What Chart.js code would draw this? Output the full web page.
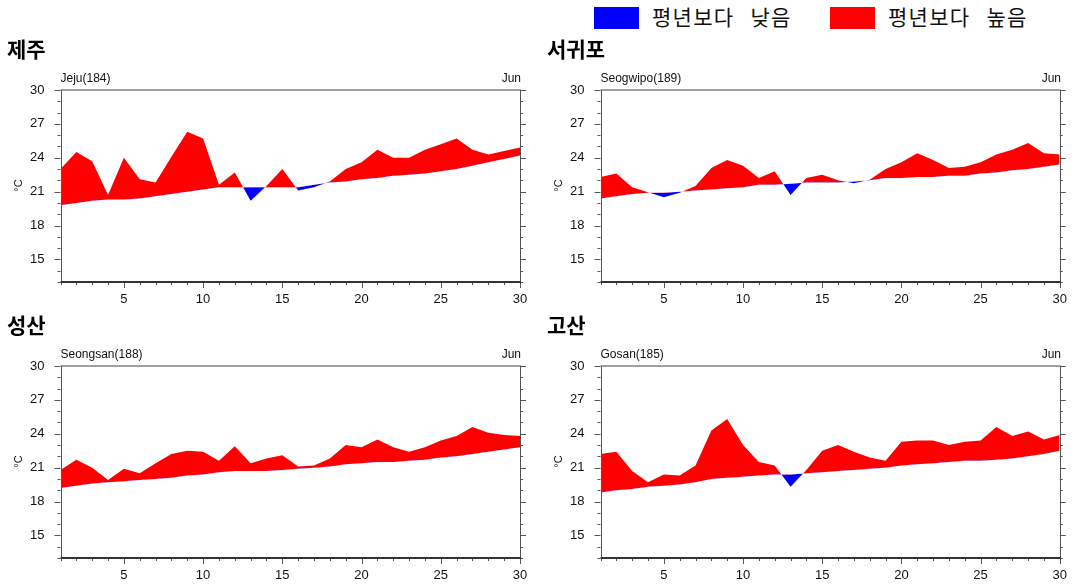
<!DOCTYPE html>
<html><head><meta charset="utf-8">
<script src="https://cdn.jsdelivr.net/npm/chart.js@4.4.0/dist/chart.umd.min.js"></script>
<style>
body{margin:0;width:1077px;height:587px;background:#fff;position:relative;overflow:hidden;font-family:"Liberation Sans",Arial,sans-serif;}
.abs{position:absolute;white-space:nowrap;}
.ttl{font-family:"Noto Sans CJK KR";font-weight:bold;font-size:21px;line-height:21px;color:#000;}
.stn{font-size:12px;line-height:12px;color:#111;}
.leg{font-family:"Noto Sans CJK KR";font-size:21px;line-height:21px;color:#111;letter-spacing:1.3px;word-spacing:10px;}
.unit{font-size:11px;line-height:11px;color:#111;width:20px;text-align:center;transform:rotate(-90deg);}
canvas{position:absolute;}
</style>
</head><body>
<div class="abs" style="left:594px;top:7px;width:45px;height:22px;background:#0000ff;"></div>
<div class="abs leg" style="left:652px;top:6px;">평년보다 낮음</div>
<div class="abs" style="left:830px;top:7px;width:45px;height:22px;background:#ff0000;"></div>
<div class="abs leg" style="left:888px;top:6px;">평년보다 높음</div>
<div id="root"></div>
<script>
// ---- data ----
const days = [1,2,3,4,5,6,7,8,9,10,11,12,13,14,15,16,17,18,19,20,21,22,23,24,25,26,27,28,29,30];
const xTickLabels = [5,10,15,20,25,30];
const yTickLabels = [15,18,21,24,27,30];
const stationTitles = ['제주','서귀포','성산','고산'];
const stationNames = ['Jeju(184)','Seogwipo(189)','Seongsan(188)','Gosan(185)'];
const monthLabel = 'Jun';

const jejuObs  = [23.0,24.5,23.7,20.7,24.0,22.1,21.8,24.1,26.3,25.7,21.6,22.7,20.2,21.5,23.0,21.1,21.4,21.9,23.0,23.6,24.7,24.0,24.0,24.7,25.2,25.7,24.7,24.3,24.6,24.9];
const jejuNorm = [19.8,20.0,20.2,20.3,20.3,20.4,20.6,20.8,21.0,21.2,21.4,21.4,21.4,21.4,21.4,21.4,21.6,21.8,21.9,22.1,22.2,22.4,22.5,22.6,22.8,23.0,23.3,23.6,23.9,24.2];

const seogwipoObs  = [22.3,22.6,21.4,20.95,20.5,20.9,21.5,23.1,23.8,23.3,22.2,22.8,20.7,22.2,22.5,22.0,21.75,22.05,23.0,23.6,24.4,23.8,23.1,23.2,23.6,24.3,24.7,25.3,24.4,24.3];
const seogwipoNorm = [20.4,20.6,20.8,20.9,20.9,21.0,21.1,21.2,21.3,21.4,21.6,21.6,21.7,21.8,21.8,21.8,21.9,22.0,22.2,22.2,22.3,22.3,22.4,22.4,22.6,22.7,22.9,23.0,23.2,23.4];

const seongsanObs  = [20.8,21.7,21.0,19.9,20.9,20.5,21.4,22.2,22.5,22.4,21.6,22.9,21.4,21.8,22.1,21.1,21.2,21.8,23.0,22.8,23.5,22.8,22.4,22.8,23.4,23.8,24.6,24.1,23.9,23.8];
const seongsanNorm = [19.2,19.4,19.6,19.7,19.8,19.9,20.0,20.1,20.3,20.4,20.6,20.7,20.7,20.7,20.8,20.9,21.0,21.1,21.3,21.4,21.5,21.5,21.6,21.7,21.9,22.0,22.2,22.4,22.6,22.8];

const gosanObs  = [22.2,22.4,20.7,19.7,20.4,20.3,21.2,24.3,25.3,23.0,21.5,21.2,19.3,20.8,22.5,23.0,22.4,21.9,21.6,23.3,23.4,23.4,23.0,23.3,23.4,24.6,23.8,24.2,23.5,23.9];
const gosanNorm = [18.8,19.0,19.1,19.3,19.4,19.5,19.7,20.0,20.1,20.2,20.3,20.4,20.4,20.5,20.6,20.7,20.8,20.9,21.0,21.2,21.3,21.4,21.5,21.6,21.6,21.7,21.8,22.0,22.2,22.5];

const obsSeries  = [jejuObs, seogwipoObs, seongsanObs, gosanObs];
const normSeries = [jejuNorm, seogwipoNorm, seongsanNorm, gosanNorm];

// ---- layout ----
const layouts = [
  {x:0,   y:60,  w:540, h:260, l:60.5,  t:90,  r:520,  b:282},
  {x:540, y:60,  w:537, h:260, l:600.5, t:90,  r:1060, b:282},
  {x:0,   y:336, w:540, h:251, l:60.5,  t:366, r:520,  b:558},
  {x:540, y:336, w:537, h:251, l:600.5, t:366, r:1060, b:558}
];

const framePlugin = {
  id:'frame',
  afterDraw(chart){
    const {ctx, chartArea:a, scales:{x, y}} = chart;
    ctx.save();
    ctx.strokeStyle = '#555'; ctx.lineWidth = 1;
    ctx.beginPath();
    for (let v = 13; v <= 30; v++) {
      const py = Math.round(y.getPixelForValue(v)) + 0.5;
      const L = yTickLabels.includes(v) ? 6 : 3;
      ctx.moveTo(a.left - L, py); ctx.lineTo(a.left, py);
      ctx.moveTo(a.right, py); ctx.lineTo(a.right + L, py);
    }
    for (const d of days) {
      const px = Math.round(x.getPixelForValue(d)) + 0.5;
      const L = (d % 5 === 0) ? 6 : 3;
      ctx.moveTo(px, a.bottom); ctx.lineTo(px, a.bottom + L);
    }
    ctx.stroke();
    // frame
    ctx.strokeStyle = '#a0a0a0'; ctx.lineWidth = 2;
    ctx.beginPath(); ctx.moveTo(a.left, a.top); ctx.lineTo(a.right + 1, a.top); ctx.stroke();
    ctx.strokeStyle = '#555'; ctx.lineWidth = 1;
    ctx.beginPath();
    ctx.moveTo(Math.round(a.left) + 0.5, a.top); ctx.lineTo(Math.round(a.left) + 0.5, a.bottom);
    ctx.moveTo(Math.round(a.right) + 0.5, a.top); ctx.lineTo(Math.round(a.right) + 0.5, a.bottom);
    ctx.stroke();
    ctx.strokeStyle = '#333'; ctx.lineWidth = 2;
    ctx.beginPath(); ctx.moveTo(a.left, a.bottom); ctx.lineTo(a.right + 1, a.bottom); ctx.stroke();
    ctx.restore();
  }
};

const root = document.getElementById('root');
const fontFam = '"Liberation Sans", Arial, sans-serif';

layouts.forEach((L, i) => {
  const cv = document.createElement('canvas');
  cv.width = L.w; cv.height = L.h;
  cv.style.left = L.x + 'px'; cv.style.top = L.y + 'px';
  cv.style.width = L.w + 'px'; cv.style.height = L.h + 'px';
  root.appendChild(cv);

  const ttl = document.createElement('div');
  ttl.className = 'abs ttl'; ttl.textContent = stationTitles[i];
  ttl.style.left = (L.x + 7) + 'px'; ttl.style.top = (L.t - 52) + 'px';
  root.appendChild(ttl);

  const stn = document.createElement('div');
  stn.className = 'abs stn'; stn.textContent = stationNames[i];
  stn.style.left = L.l + 'px'; stn.style.top = (L.t - 18) + 'px';
  root.appendChild(stn);

  const mon = document.createElement('div');
  mon.className = 'abs stn'; mon.textContent = monthLabel;
  mon.style.right = (1077 - L.r - 1) + 'px'; mon.style.top = (L.t - 18) + 'px';
  root.appendChild(mon);

  const unit = document.createElement('div');
  unit.className = 'abs unit'; unit.textContent = '°C';
  unit.style.left = (L.x + 8) + 'px'; unit.style.top = ((L.t + L.b) / 2 - 6) + 'px';
  root.appendChild(unit);

  const obs = obsSeries[i], norm = normSeries[i];
  new Chart(cv, {
    type: 'line',
    data: {
      datasets: [
        {data: days.map((d, k) => ({x: d, y: norm[k]})), borderColor: 'transparent', borderWidth: 1, pointRadius: 0, fill: false, tension: 0},
        {data: days.map((d, k) => ({x: d, y: obs[k]})), borderColor: 'transparent', borderWidth: 1, pointRadius: 0, tension: 0,
         fill: {target: 0, above: '#ff0000', below: '#0000ff'}}
      ]
    },
    options: {
      responsive: false, animation: false,
      layout: {padding: {left: 0, top: L.t - L.y, right: (L.x + L.w) - L.r, bottom: 0}},
      plugins: {legend: {display: false}, tooltip: {enabled: false}},
      scales: {
        x: {
          type: 'linear', min: 1, max: 30,
          afterFit: s => { s.height = (L.y + L.h) - L.b; },
          afterBuildTicks: s => { s.ticks = xTickLabels.map(v => ({value: v})); },
          ticks: {autoSkip: false, maxRotation: 0, padding: 10, color: '#111', font: {size: 13, family: fontFam}},
          grid: {display: false, drawTicks: false}, border: {display: false}
        },
        y: {
          type: 'linear', min: 13, max: 30,
          afterFit: s => { s.width = L.l - L.x; },
          afterBuildTicks: s => { s.ticks = yTickLabels.map(v => ({value: v})); },
          ticks: {autoSkip: false, padding: 16, color: '#111', font: {size: 13, family: fontFam}},
          grid: {display: false, drawTicks: false}, border: {display: false}
        }
      }
    },
    plugins: [framePlugin]
  });
});
</script>
</body></html>
